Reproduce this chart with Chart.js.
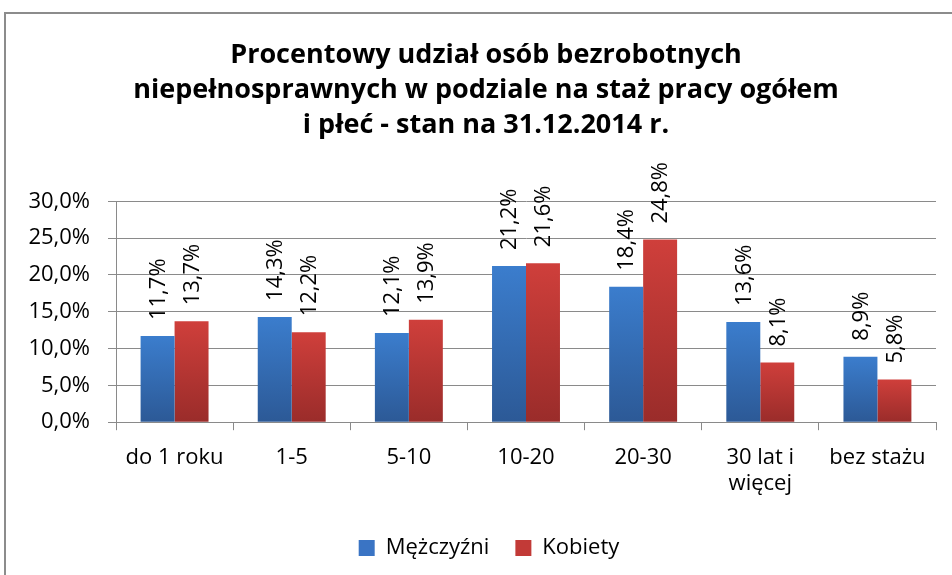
<!DOCTYPE html>
<html lang="pl">
<head>
    <script src="https://cdn.jsdelivr.net/npm/chart.js"></script>
    <meta charset="UTF-8">
    <title>Bezrobotni niepełnosprawni - staż pracy</title>
    <style>
        html, body { margin: 0; padding: 0; overflow: hidden; background: #fff; }
        #frame {
            position: absolute; left: 4px; top: 12px;
            width: 966px; height: 577px;
            border-left: 2px solid #8c8c8c; border-top: 2px solid #8c8c8c;
        }
        #box { position: absolute; left: 0; top: 0; width: 964px; height: 575px; }
    </style>
</head>
<body>
    <div id="frame">
        <div id="box"><canvas id="myChart"></canvas></div>
    </div>
    <script>
        const categories = ['do 1 roku', '1-5', '5-10', '10-20', '20-30', ['30 lat i', 'więcej'], 'bez stażu'];
        const men = [11.7, 14.3, 12.1, 21.2, 18.4, 13.6, 8.9];
        const women = [13.7, 12.2, 13.9, 21.6, 24.8, 8.1, 5.8];
        const seriesNames = ['Mężczyźni', 'Kobiety'];

        const FONT = '"Open Sans", "Noto Sans", sans-serif';
        const fmt = v => v.toFixed(1).replace('.', ',') + '%';

        // vertical gradient per bar, from the bar top down to the baseline
        function barFill(topColor, bottomColor) {
            return (ctx) => {
                const chart = ctx.chart;
                const y = chart.scales.y;
                if (ctx.type !== 'data' || !y) return topColor;
                const g = chart.ctx.createLinearGradient(0, y.getPixelForValue(ctx.raw), 0, y.getPixelForValue(0));
                g.addColorStop(0, topColor);
                g.addColorStop(1, bottomColor);
                return g;
            };
        }

        // rotated value labels above each bar
        const valueLabels = {
            id: 'valueLabels',
            afterDatasetsDraw(chart) {
                const c = chart.ctx;
                c.save();
                c.font = '22px ' + FONT;
                c.fillStyle = '#000';
                c.textAlign = 'left';
                c.textBaseline = 'middle';
                chart.data.datasets.forEach((ds, i) => {
                    chart.getDatasetMeta(i).data.forEach((bar, j) => {
                        c.save();
                        c.translate(bar.x + 1, bar.y - 16);
                        c.rotate(-Math.PI / 2);
                        c.fillText(fmt(ds.data[j]), 0, 0);
                        c.restore();
                    });
                });
                c.restore();
            }
        };

        // nudge title and legend a bit to the right so they sit centred under the frame
        const centreShift = {
            id: 'centreShift',
            afterLayout(chart) {
                chart.titleBlock.left += 4; chart.titleBlock.right += 4;
                chart.legend.left += 7; chart.legend.right += 7;
            }
        };

        const solid = ['#3a74c4', '#c23a37'];

        new Chart(document.getElementById('myChart'), {
            type: 'bar',
            data: {
                labels: categories,
                datasets: [{
                    label: seriesNames[0],
                    data: men,
                    backgroundColor: barFill('#3b7dcd', '#2c5996')
                }, {
                    label: seriesNames[1],
                    data: women,
                    backgroundColor: barFill('#cf3f3b', '#9a2c2a')
                }]
            },
            plugins: [valueLabels, centreShift],
            options: {
                responsive: true,
                maintainAspectRatio: false,
                animation: false,
                categoryPercentage: 0.58,
                barPercentage: 1,
                layout: { padding: { left: 22, right: 34, top: 0, bottom: 20 } },
                scales: {
                    x: {
                        grid: { drawOnChartArea: false, tickLength: 8, color: '#8a8a8a', offset: true },
                        border: { color: '#8a8a8a' },
                        ticks: {
                            color: '#000', padding: 14, maxRotation: 0, autoSkip: false,
                            font: { family: FONT, size: 22, lineHeight: 1.2 }
                        }
                    },
                    y: {
                        min: 0, max: 30,
                        afterFit: s => { s.width = 88; },
                        grid: { color: '#8a8a8a', tickLength: 8 },
                        border: { color: '#8a8a8a' },
                        ticks: {
                            stepSize: 5, color: '#000', padding: 18,
                            font: { family: FONT, size: 22 },
                            callback: v => fmt(v)
                        }
                    }
                },
                plugins: {
                    title: {
                        display: true,
                        text: ['Procentowy udział osób bezrobotnych',
                               'niepełnosprawnych w podziale na staż pracy ogółem',
                               'i płeć - stan na 31.12.2014 r.'],
                        color: '#000',
                        font: { family: FONT, size: 27, weight: 'bold', lineHeight: 1.3 },
                        padding: { top: 24, bottom: 58 }
                    },
                    legend: {
                        position: 'bottom',
                        labels: {
                            color: '#000', boxWidth: 16, boxHeight: 16, padding: 26,
                            font: { family: FONT, size: 22 },
                            generateLabels: chart => chart.data.datasets.map((ds, i) => ({
                                text: ds.label, fillStyle: solid[i], strokeStyle: solid[i],
                                lineWidth: 0, datasetIndex: i, fontColor: '#000'
                            }))
                        }
                    },
                    tooltip: { enabled: false }
                }
            }
        });
    </script>
</body>
</html>
